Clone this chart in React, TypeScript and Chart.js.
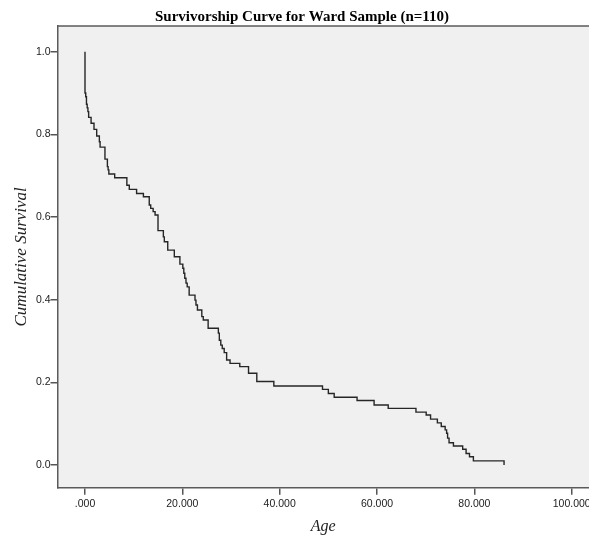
import React, { useEffect, useRef } from "react";
import { Chart, registerables } from "chart.js";

Chart.register(...registerables);

const chartTitle = "Survivorship Curve for Ward Sample (n=110)";
const xAxisTitle = "Age";
const yAxisTitle = "Cumulative Survival";

const xTickValues = [0, 20, 40, 60, 80, 100];
const yTickValues = [0, 0.2, 0.4, 0.6, 0.8, 1.0];

const ages = [
  0, 0, 0.15, 0.3, 0.45, 0.6, 0.75, 1.25, 1.85, 2.4, 2.95, 3.1, 4.1, 4.6, 4.75, 4.9,
  6.1, 8.6, 9.1, 10.6, 12.0, 13.2, 13.5, 14.0, 14.4, 15.0, 16.1, 16.3, 17.0, 18.35, 19.5,
  20.1, 20.3, 20.5, 20.75, 21.0, 21.4, 22.6, 22.8, 23.1, 24.0, 24.3, 25.3,
  27.4, 27.6, 27.9, 28.2, 28.6, 29.1, 29.8, 31.8, 33.6, 35.3, 38.8,
  48.8, 50.0, 51.2, 55.9, 59.4, 62.3, 68.0, 70.1, 71.0, 72.4, 73.2,
  74.0, 74.3, 74.5, 74.8, 75.7, 77.6, 78.3, 79.0, 79.8, 86.1,
];
const survival = [
  1.0, 0.9, 0.891, 0.873, 0.864, 0.855, 0.841, 0.827, 0.812, 0.796, 0.782, 0.769, 0.74, 0.722, 0.714, 0.704,
  0.695, 0.677, 0.667, 0.657, 0.649, 0.629, 0.621, 0.613, 0.605, 0.567, 0.552, 0.54, 0.52, 0.504, 0.486,
  0.476, 0.464, 0.452, 0.44, 0.431, 0.411, 0.399, 0.387, 0.375, 0.359, 0.351, 0.331,
  0.319, 0.302, 0.29, 0.282, 0.272, 0.254, 0.246, 0.238, 0.222, 0.202, 0.191,
  0.183, 0.173, 0.164, 0.156, 0.145, 0.137, 0.128, 0.121, 0.111, 0.102, 0.093,
  0.085, 0.077, 0.065, 0.054, 0.046, 0.038, 0.028, 0.02, 0.01, 0.0,
];

const W = 589;
const H = 542;

const framePlugin = {
  id: "frame",
  beforeDraw(chart: any) {
    const { ctx, chartArea } = chart;
    ctx.save();
    ctx.fillStyle = "#ffffff";
    ctx.fillRect(0, 0, chart.width, chart.height);
    ctx.fillStyle = "#f0f0f0";
    ctx.fillRect(chartArea.left, chartArea.top, chartArea.right - chartArea.left, chartArea.bottom - chartArea.top);
    ctx.restore();
  },
  afterDraw(chart: any) {
    const { ctx, chartArea } = chart;
    ctx.save();
    ctx.strokeStyle = "#5a5a5a";
    ctx.lineWidth = 1.5;
    ctx.beginPath();
    ctx.moveTo(chartArea.left, chartArea.top);
    ctx.lineTo(chartArea.right + 2, chartArea.top);
    ctx.stroke();
    ctx.fillStyle = "#000";
    ctx.font = "bold 15px 'Liberation Serif', 'Times New Roman', serif";
    ctx.textAlign = "center";
    ctx.textBaseline = "alphabetic";
    ctx.fillText(chartTitle, 302, 21);
    ctx.restore();
  },
};

export default function App() {
  const ref = useRef<HTMLCanvasElement | null>(null);

  useEffect(() => {
    if (!ref.current) return;
    const pxPerUnit = (571.7 - 85) / 100;
    const xMin = -(85 - 57.5) / pxPerUnit;
    const xMax = (W - 85) / pxPerUnit;
    const pxPerY = 465 - 51.7;
    const yMax = 1 + (51.7 - 26) / pxPerY;
    const yMin = -(487.7 - 465) / pxPerY;

    const chart = new Chart(ref.current, {
      type: "line",
      data: {
        datasets: [
          {
            data: ages.map((a, i) => ({ x: a, y: survival[i] })),
            stepped: "before",
            borderColor: "#262626",
            borderWidth: 1.4,
            pointRadius: 0,
            fill: false,
          },
        ],
      },
      plugins: [framePlugin],
      options: {
        animation: false,
        responsive: true,
        maintainAspectRatio: false,
        layout: { padding: { top: 26, left: 0, right: 0, bottom: 0 } },
        plugins: {
          legend: { display: false },
          title: { display: false },
          tooltip: { enabled: false },
        },
        scales: {
          x: {
            type: "linear",
            min: xMin,
            max: xMax,
            afterBuildTicks: (s: any) => {
              s.ticks = xTickValues.map((v) => ({ value: v }));
            },
            afterFit: (s: any) => {
              s.height = H - 487.7;
              s.paddingLeft = 0;
              s.paddingRight = 0;
            },
            ticks: {
              autoSkip: false,
              maxRotation: 0,
              padding: 3,
              color: "#222",
              font: { family: "'Liberation Sans', Arial, sans-serif", size: 10.5 },
              callback: (v: any) => (Number(v) === 0 ? ".000" : Number(v).toFixed(3)),
            },
            grid: { drawOnChartArea: false, drawTicks: true, tickLength: 7, color: "#555", lineWidth: 1.5 },
            border: { display: true, color: "#5a5a5a", width: 1.5 },
            title: {
              display: true,
              text: xAxisTitle,
              color: "#222",
              font: { family: "'Liberation Serif', 'Times New Roman', serif", size: 16, style: "italic" },
              padding: { top: 0, bottom: 6 },
            },
          },
          y: {
            type: "linear",
            min: yMin,
            max: yMax,
            afterBuildTicks: (s: any) => {
              s.ticks = yTickValues.map((v) => ({ value: v }));
            },
            afterFit: (s: any) => {
              s.width = 57.5;
              s.paddingTop = 0;
              s.paddingBottom = 0;
            },
            ticks: {
              autoSkip: false,
              padding: 0,
              color: "#222",
              font: { family: "'Liberation Sans', Arial, sans-serif", size: 10.5 },
              callback: (v: any) => Number(v).toFixed(1),
            },
            grid: { drawOnChartArea: false, drawTicks: true, tickLength: 7, color: "#555", lineWidth: 1.5 },
            border: { display: true, color: "#5a5a5a", width: 1.5 },
            title: {
              display: true,
              text: yAxisTitle,
              color: "#222",
              font: { family: "'Liberation Serif', 'Times New Roman', serif", size: 17, style: "italic" },
              padding: { top: 11, bottom: 0 },
            },
          },
        },
      },
    });
    return () => chart.destroy();
  }, []);

  return (
    <div style={{ position: "fixed", left: 0, top: 0, width: W, height: H, background: "#fff" }}>
      <canvas ref={ref} />
    </div>
  );
}
